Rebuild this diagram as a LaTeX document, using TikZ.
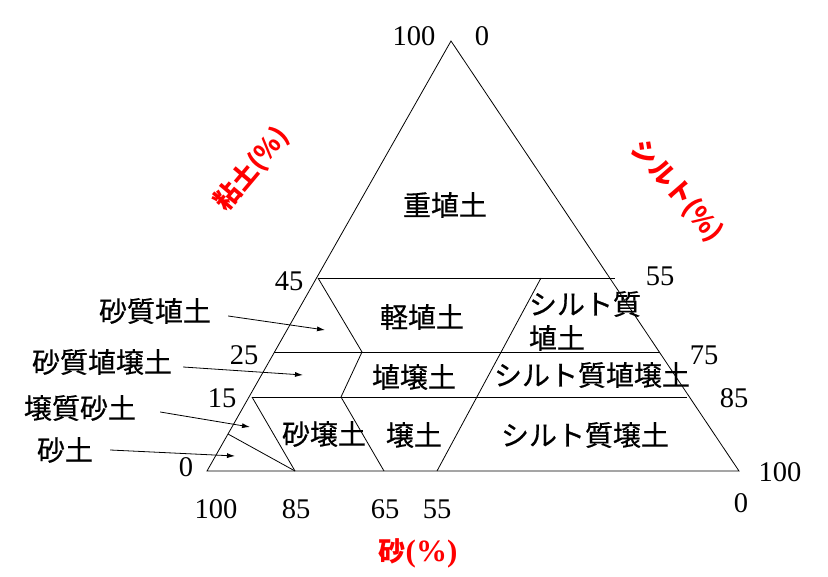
\documentclass[tikz,border=0pt]{standalone}
\usepackage{fontspec}
\setmainfont{Liberation Serif}
\newfontfamily\jp[FakeBold=0.5]{Noto Sans CJK JP}
\newfontfamily\jpb{Noto Sans CJK JP}
\usetikzlibrary{arrows.meta,calc}
\begin{document}
\begin{tikzpicture}[x=1pt,y=-1pt,
  ln/.style={line width=0.8pt},
  zone/.style={font=\jp\fontsize{28}{34}\selectfont, inner sep=0pt},
  num/.style={font=\fontsize{28.5}{30}\selectfont, inner sep=0pt},
  axislbl/.style={font=\jpb\bfseries\fontsize{26}{30}\selectfont, text=red, inner sep=0pt},
  arr/.style={line width=0.8pt, -{Latex[length=8pt,width=5pt]}}]
\useasboundingbox (0,0) rectangle (828,577);
% triangle vertices
\coordinate (A) at (451,41);
\coordinate (L) at (207,471);
\coordinate (R) at (739,471);
% boundary points
\coordinate (h45l) at (318,278);
\coordinate (h45r) at (615,278);
\coordinate (h25l) at (274,352);
\coordinate (h25r) at (660,352);
\coordinate (h15l) at (252,397);
\coordinate (h15r) at (687,397);
\coordinate (z1) at (362,352);
\coordinate (z2) at (341,397);
\coordinate (z3) at (384,471);
\coordinate (s1) at (541,278);
\coordinate (s2) at (437,471);
\coordinate (b85) at (295,471);
\coordinate (e1) at (228,434);
% triangle and lines
\draw[ln] (A) -- (L) -- (R) -- cycle;
\draw[ln] (h45l) -- (h45r);
\draw[ln] (h25l) -- (h25r);
\draw[ln] (h15l) -- (h15r);
\draw[ln] (h45l) -- (z1) -- (z2) -- (z3);
\draw[ln] (s1) -- (s2);
\draw[ln] (h15l) -- (b85);
\draw[ln] (e1) -- (b85);
% zone labels
\node[zone] (n1) at (445,205) {重埴土};
\node[zone] (n2) at (422,317) {軽埴土};
\node[zone] (n3) at (414,377) {埴壌土};
\node[zone] (n4) at (414,435) {壌土};
\node[zone] (n5) at (324,434) {砂壌土};
\node[zone, align=left] (n6) at (585,321) {シルト質\\埴土};
\node[zone] (n7) at (592,375) {シルト質埴壌土};
\node[zone] (n8) at (585,435) {シルト質壌土};
% outside labels with arrows
\node[zone] (o1) at (155,311) {砂質埴土};
\node[zone] (o2) at (102,362) {砂質埴壌土};
\node[zone] (o3) at (80,408) {壌質砂土};
\node[zone] (o4) at (65,450) {砂土};
\coordinate (t1) at (325,330);
\coordinate (t2) at (303,375);
\coordinate (t3) at (250,427);
\coordinate (t4) at (235,456);
\draw[arr] ($(o1.east)+(17,5)$) -- (t1);
\draw[arr] ($(o2.east)+(11,5)$) -- (t2);
\draw[arr] ($(o3.east)+(24,4)$) -- (t3);
\draw[arr] ($(o4.east)+(17,0)$) -- (t4);
% numbers
\node[num] (p1) at (414,36) {100};
\node[num] (p2) at (482,36) {0};
\node[num] (p3) at (289,281) {45};
\node[num] (p4) at (244,355) {25};
\node[num] (p5) at (222,398) {15};
\node[num] (p6) at (186,467) {0};
\node[num] (p7) at (660,276) {55};
\node[num] (p8) at (704,355) {75};
\node[num] (p9) at (734,398) {85};
\node[num] (p10) at (780,472) {100};
\node[num] (p11) at (741,503) {0};
\node[num] (p12) at (216,509) {100};
\node[num] (p13) at (296,509) {85};
\node[num] (p14) at (385,509) {65};
\node[num] (p15) at (437,509) {55};
% axis labels
\node[font=\bfseries\fontsize{31}{32}\selectfont, text=red, inner sep=0pt] (ax1) at (418,553) {{\jpb\bfseries\fontsize{27}{30}\selectfont 砂}(\%)};
\node[axislbl, rotate=50] (ax2) at (252,169) {粘土(\%)};
\node[axislbl, rotate=-49] (ax3) at (677,191) {シルト(\%)};
\end{tikzpicture}
\end{document}
